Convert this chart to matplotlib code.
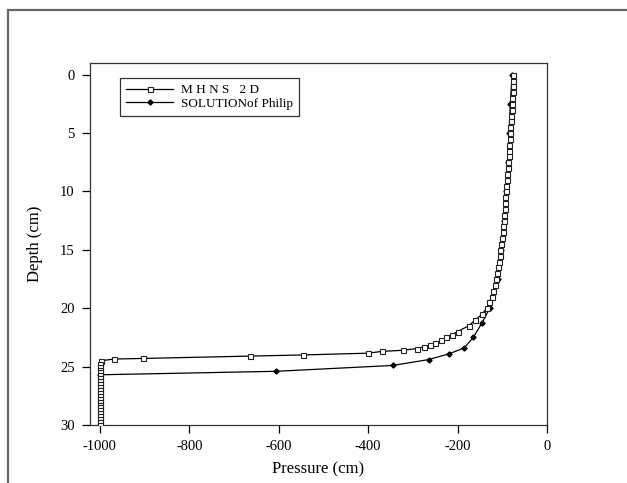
import matplotlib.pyplot as plt
from matplotlib.patches import Rectangle

plt.rcParams['font.family'] = ['Liberation Serif', 'DejaVu Serif']

# MHNS 2D simulated profile (depth cm, pressure cm)
mhns_depth = [0, 0.5, 1, 1.5, 2, 2.5, 3, 3.5, 4, 4.5, 5, 5.5, 6, 6.5, 7, 7.5,
              8, 8.5, 9, 9.5, 10, 10.5, 11, 11.5, 12, 12.5, 13, 13.5, 14, 14.5,
              15, 15.5, 16, 16.5, 17, 17.5, 18, 18.5, 19, 19.5, 20, 20.5, 21,
              21.5, 22, 22.25, 22.5, 22.75, 23, 23.15, 23.3, 23.45, 23.6, 23.7,
              23.85, 24.0, 24.1, 24.3, 24.35, 24.5,
              24.75, 25, 25.25, 25.5, 25.75, 26, 26.25, 26.5, 26.75, 27, 27.25,
              27.5, 27.75, 28, 28.25, 28.5, 28.75, 29, 29.25, 29.5, 29.75, 30]
mhns_press = [-76, -76, -77, -77, -78, -78, -79, -80, -81, -82, -83, -83, -84,
              -85, -86, -87, -88, -89, -90, -91, -92, -93, -94, -95, -96, -97,
              -98, -99, -101, -102, -104, -105, -107, -109, -111, -114, -117,
              -120, -124, -129, -135, -145, -160, -175, -200, -212, -225, -237,
              -250, -262, -275, -290, -322, -370, -400, -545, -664, -903, -968,
              -998,
              -1000, -1000, -1000, -1000, -1000, -1000, -1000, -1000, -1000,
              -1000, -1000, -1000, -1000, -1000, -1000, -1000, -1000, -1000,
              -1000, -1000, -1000, -1000]

# Philip analytical solution
philip_depth = [0, 2.5, 5, 7.5, 10, 12.5, 15, 17.5, 20, 21.3, 22.5, 23.4, 23.9,
                24.4, 24.9, 25.4, 25.7, 30]
philip_press = [-78, -82, -85, -87, -91, -96, -102, -110, -128, -146, -165,
                -185, -219, -265, -345, -605, -1000, -1000]

x_ticks = [-1000, -800, -600, -400, -200, 0]
y_ticks = [0, 5, 10, 15, 20, 25, 30]

fig = plt.figure(figsize=(6.27, 4.83), dpi=100)
ax = fig.add_axes([90/627, 1-425/483, 457/627, 362/483])

ax.plot(mhns_press, mhns_depth, color='black', lw=0.9, marker='s',
        ms=3.6, mfc='white', mec='#222222', mew=0.8, label='M H N S   2 D',
        zorder=3)
ax.plot(philip_press, philip_depth, color='black', lw=0.9, marker='D',
        ms=2.6, mfc='black', mec='black', label='SOLUTIONof Philip',
        zorder=2)

ax.set_xlim(-1022, 0)
ax.set_ylim(30, -1)
ax.set_xticks(x_ticks)
ax.set_yticks(y_ticks)
ax.set_xticklabels([str(v) for v in x_ticks])
ax.tick_params(direction='out', length=6, width=0.9, labelsize=10.5, pad=5)
for s in ax.spines.values():
    s.set_linewidth(0.9)
    s.set_color('#333333')

ax.set_xlabel('Pressure (cm)', fontsize=12, labelpad=6)
ax.set_ylabel('Depth (cm)', fontsize=12, labelpad=12)

leg = ax.legend(loc='upper left', bbox_to_anchor=(30/457, 1-15/362),
                borderaxespad=0, fontsize=9.5, frameon=True, fancybox=False,
                edgecolor='black', handlelength=3.6, borderpad=0.45,
                labelspacing=0.1, handletextpad=0.6)
leg.get_frame().set_linewidth(0.9)

# outer frame around the figure
fig.add_artist(Rectangle((8/627, -0.2), 1.2, 1-10/483+0.2,
                         transform=fig.transFigure, fill=False,
                         ec='#666666', lw=1.6))

fig.savefig('out.png', dpi=100)
